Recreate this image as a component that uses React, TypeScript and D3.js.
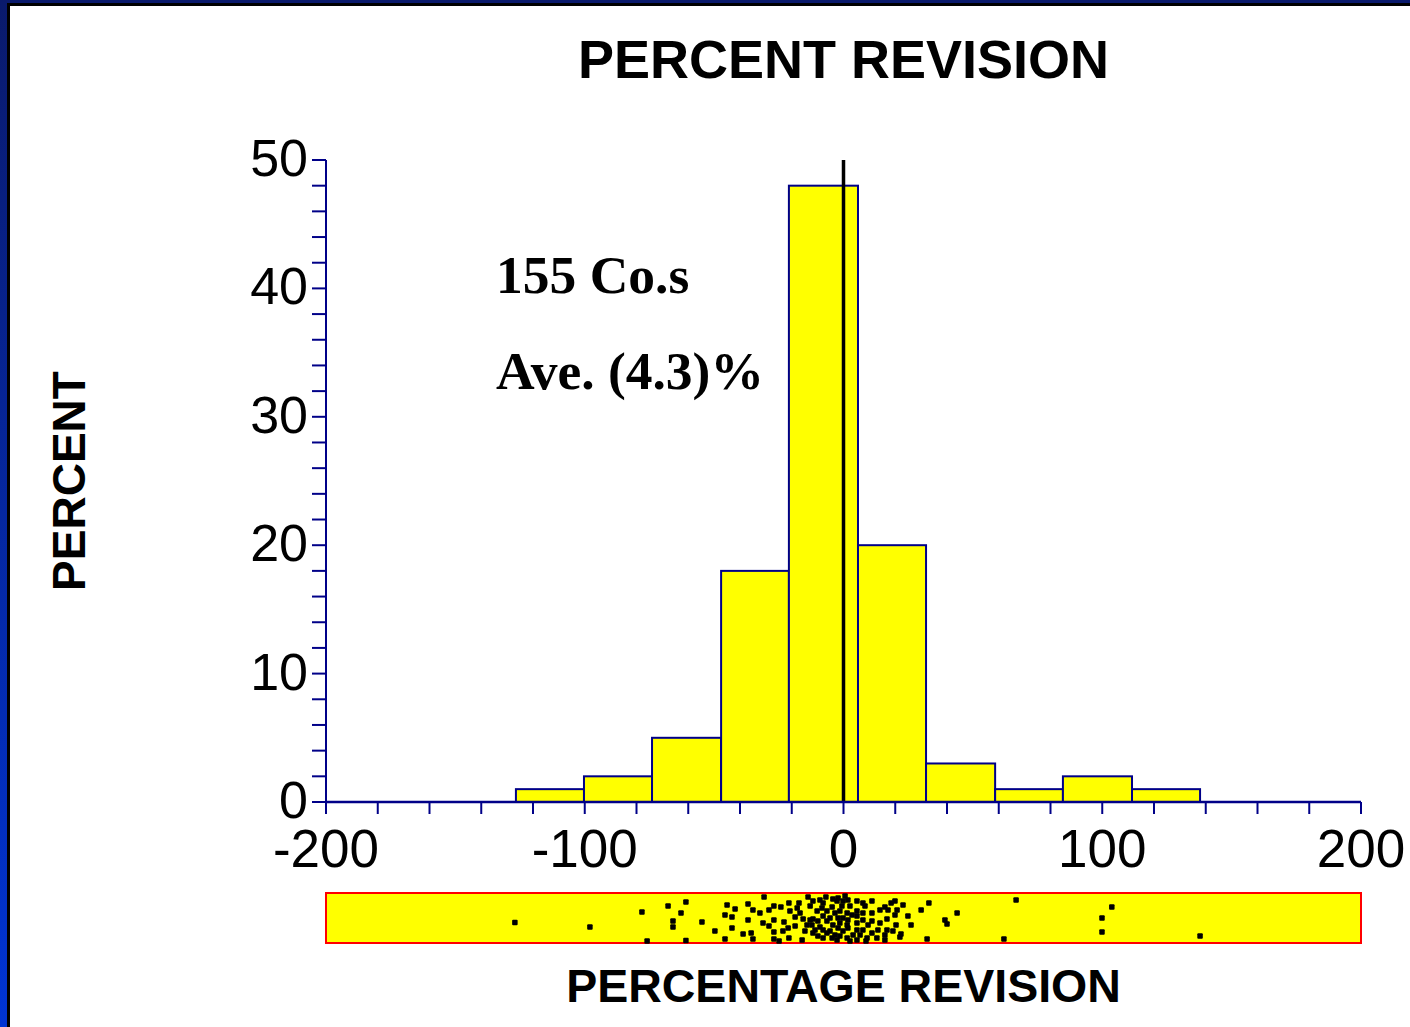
import { scaleLinear, range } from "d3";

// histogram bin edges (percentage revision) and bar heights (percent of companies)
const binEdges = [-126.6, -100.3, -74.0, -47.3, -21.1, 5.6, 31.9, 58.6, 84.8, 111.5, 137.8];
const binPercents = [1, 2, 5, 18, 48, 20, 3, 1, 2, 1];

const xTickLabels = [-200, -100, 0, 100, 200];
const yTickLabels = [0, 10, 20, 30, 40, 50];

// individual companies: revision value and vertical offset in the strip (0..1)
const dotRevisions = [
  -127.0, -98.0, -77.9, -75.9, -67.8, -60.9, -62.8, -65.9, -65.9, -60.9,
  -54.7, -49.7, -45.0, -41.9, -45.8, -43.1, -43.1, -45.8, -38.8, -35.7,
  -35.0, -36.9, -35.0, -36.9, -30.7, -28.8, -26.9, -31.1, -28.8, -26.9,
  -26.9, -26.9, -24.9, -24.2, -23.0, -21.4, -21.1, -21.1, -20.7, -18.7,
  -18.7, -17.9, -23.4, -13.7, -11.8, -12.9, -9.1, -7.9, -10.2, -8.3,
  -6.4, -7.9, -12.9, -11.8, -9.9, -6.4, -14.1, -12.2, -9.1, -14.9,
  -11.8, -7.9, -6.4, -9.9, -7.9, -11.0, -5.2, -5.2, -16.0, -4.1,
  -2.5, -4.4, -3.3, -2.1, -4.1, -2.1, -3.3, -4.4, -2.5, -0.2,
  1.7, -0.6, 2.5, -1.4, 1.4, -0.2, 1.7, -1.4, 1.4, -0.2,
  1.7, -1.4, 1.4, 3.7, 2.5, -2.1, 5.2, 7.5, 11.0, 8.3,
  5.2, 7.5, 11.0, 14.1, 16.0, 5.2, 7.5, 11.0, 5.2, 14.1,
  5.2, 7.5, 11.0, 13.3, 6.4, 9.1, 5.2, 12.9, 16.0, 19.9,
  23.0, 17.2, 20.7, 19.9, 16.8, 24.9, 20.3, 26.1, 16.8, 19.1,
  22.2, 16.0, 21.8, 33.0, 30.0, 39.2, 40.0, 43.9, 32.3, 66.7,
  62.0, 99.9, 99.9, 103.7, 137.8, -16.8, -15.6, 3.3, 9.5, 18.4,
  -6.8, 0.6, -17.2, 8.7, -32.3,
];
const dotOffsets = [
  0.59, 0.68, 0.38, 0.96, 0.26, 0.18, 0.40, 0.56, 0.68, 0.95,
  0.58, 0.76, 0.24, 0.32, 0.44, 0.48, 0.70, 0.92, 0.82, 0.80,
  0.92, 0.22, 0.34, 0.54, 0.08, 0.34, 0.26, 0.60, 0.66, 0.54,
  0.78, 0.92, 0.96, 0.28, 0.58, 0.70, 0.20, 0.90, 0.36, 0.48,
  0.66, 0.30, 0.76, 0.08, 0.16, 0.26, 0.14, 0.20, 0.36, 0.30,
  0.36, 0.46, 0.54, 0.52, 0.56, 0.56, 0.64, 0.64, 0.68, 0.76,
  0.80, 0.74, 0.80, 0.86, 0.90, 0.74, 0.50, 0.76, 0.94, 0.12,
  0.16, 0.28, 0.40, 0.50, 0.64, 0.70, 0.84, 0.90, 0.94, 0.16,
  0.14, 0.26, 0.26, 0.36, 0.40, 0.50, 0.54, 0.60, 0.64, 0.76,
  0.70, 0.86, 0.90, 0.84, 0.96, 0.10, 0.16, 0.20, 0.16, 0.26,
  0.36, 0.40, 0.40, 0.34, 0.28, 0.46, 0.54, 0.56, 0.60, 0.60,
  0.74, 0.74, 0.80, 0.74, 0.84, 0.90, 0.94, 0.90, 0.84, 0.16,
  0.24, 0.34, 0.34, 0.44, 0.52, 0.46, 0.64, 0.64, 0.74, 0.76,
  0.82, 0.94, 0.88, 0.20, 0.34, 0.54, 0.62, 0.40, 0.92, 0.14,
  0.92, 0.50, 0.78, 0.28, 0.86, 0.40, 0.52, 0.44, 0.64, 0.20,
  0.08, 0.06, 0.20, 0.96, 0.40,
];

const width = 1410;
const height = 1027;
const navy = "#000088";
const sans = "Arial, 'Liberation Sans', Helvetica, sans-serif";
const serif = "'Times New Roman', 'Liberation Serif', serif";

export default function App() {
  const x = scaleLinear().domain([-200, 200]).range([326, 1361]);
  const y = scaleLinear().domain([0, 50]).range([802, 160]);

  const stripTop = 893;
  const stripBottom = 943;
  const jitter = scaleLinear().domain([0, 1]).range([stripTop, stripBottom]);

  const xMinor = range(-200, 201, 20);
  const yMinor = range(0, 51, 2);

  return (
    <svg
      width={width}
      height={height}
      style={{ position: "absolute", left: 0, top: 0, display: "block" }}
    >
      <defs>
        <linearGradient id="frame" x1="0" y1="0" x2="0" y2="1">
          <stop offset="0%" stopColor="#0a1a6c" />
          <stop offset="100%" stopColor="#0034d4" />
        </linearGradient>
      </defs>

      {/* slide frame */}
      <rect x={0} y={0} width={width} height={height} fill="url(#frame)" />
      <rect x={7} y={3} width={width} height={height} fill="#000" />
      <rect x={10} y={6} width={width} height={height} fill="#fff" />

      {/* title */}
      <text
        x={x(0)}
        y={78}
        textAnchor="middle"
        fontFamily={sans}
        fontWeight="bold"
        fontSize={54}
      >
        PERCENT REVISION
      </text>

      {/* y axis label */}
      <text
        transform={`translate(85,481) rotate(-90)`}
        textAnchor="middle"
        fontFamily={sans}
        fontWeight="bold"
        fontSize={46}
      >
        PERCENT
      </text>

      {/* bars */}
      {binPercents.map((p, i) => (
        <rect
          key={`bar-${i}`}
          x={x(binEdges[i])}
          y={y(p)}
          width={x(binEdges[i + 1]) - x(binEdges[i])}
          height={y(0) - y(p)}
          fill="#ffff00"
          stroke={navy}
          strokeWidth={2}
        />
      ))}

      {/* zero line */}
      <line x1={x(0)} x2={x(0)} y1={y(50)} y2={y(0)} stroke="#000" strokeWidth={3.5} />

      {/* y axis */}
      <line x1={x(-200)} x2={x(-200)} y1={y(50)} y2={y(0)} stroke={navy} strokeWidth={2} />
      {yMinor.map((v) => (
        <line
          key={`yt-${v}`}
          x1={x(-200) - 14}
          x2={x(-200)}
          y1={y(v)}
          y2={y(v)}
          stroke={navy}
          strokeWidth={2}
        />
      ))}
      {yTickLabels.map((v) => (
        <text
          key={`yl-${v}`}
          x={308}
          y={y(v) + 16}
          textAnchor="end"
          fontFamily={sans}
          fontSize={52}
        >
          {v}
        </text>
      ))}

      {/* x axis */}
      <line x1={x(-200)} x2={x(200)} y1={y(0)} y2={y(0)} stroke={navy} strokeWidth={2.5} />
      {xMinor.map((v) => (
        <line
          key={`xt-${v}`}
          x1={x(v)}
          x2={x(v)}
          y1={y(0)}
          y2={y(0) + 12}
          stroke={navy}
          strokeWidth={2}
        />
      ))}
      {xTickLabels.map((v) => (
        <text
          key={`xl-${v}`}
          x={x(v)}
          y={867}
          textAnchor="middle"
          fontFamily={sans}
          fontSize={53}
        >
          {v}
        </text>
      ))}

      {/* annotations */}
      <text x={496} y={293} fontFamily={serif} fontWeight="bold" fontSize={53.5}>
        155 Co.s
      </text>
      <text x={496} y={389} fontFamily={serif} fontWeight="bold" fontSize={53.5}>
        Ave. (4.3)%
      </text>

      {/* dot strip */}
      <rect
        x={x(-200)}
        y={stripTop}
        width={x(200) - x(-200)}
        height={stripBottom - stripTop}
        fill="#ffff00"
        stroke="#ff0000"
        strokeWidth={2}
      />
      {dotRevisions.map((v, i) => (
        <rect
          key={`dot-${i}`}
          x={x(v) - 2.75}
          y={jitter(dotOffsets[i]) - 2.75}
          width={5.5}
          height={5.5}
          rx={1}
          fill="#000"
        />
      ))}

      {/* x axis label */}
      <text
        x={x(0)}
        y={1002}
        textAnchor="middle"
        fontFamily={sans}
        fontWeight="bold"
        fontSize={46.5}
      >
        PERCENTAGE REVISION
      </text>
    </svg>
  );
}
